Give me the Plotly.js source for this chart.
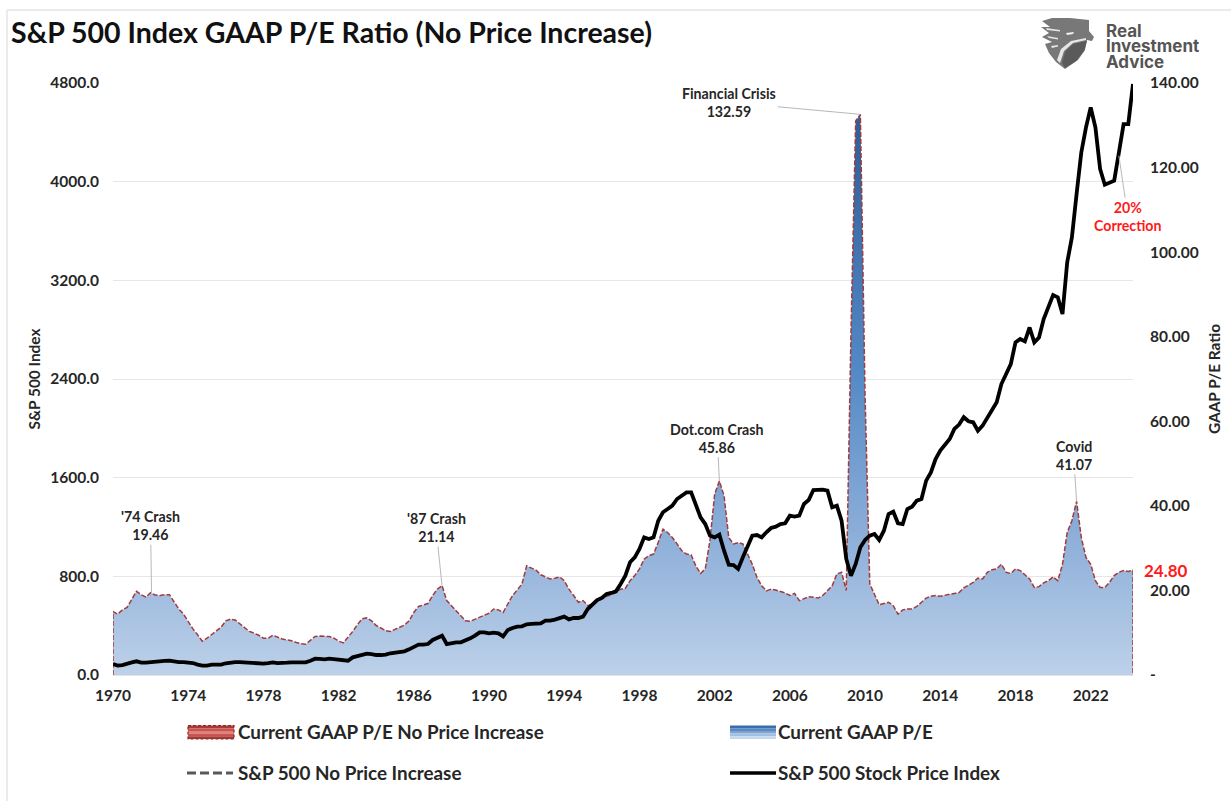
<!DOCTYPE html>
<html>
<head>
<meta charset="utf-8">
<script src="https://cdn.plot.ly/plotly-3.0.1.min.js"></script>
<style>html,body{margin:0;padding:0;background:#fff}#chart{width:1231px;height:801px}</style>
</head>
<body>
<div id="chart"></div>
<script>
const startYear = 1970;
const peRatio = [
14.97,14.4,15.4,16.0, 18.0,19.8,19.0,18.4, 19.46,18.9,18.8,19.0, 19.0,17.2,15.6,14.4,
12.5,10.9,9.5,8.0, 8.7,9.5,10.3,11.3, 12.8,13.2,13.0,12.1, 11.1,10.3,9.9,9.4,
8.7,8.7,9.4,8.9, 8.5,8.3,8.1,7.7, 7.4,7.3,8.1,9.1, 9.2,9.2,9.1,8.7,
8.0,7.6,8.9,10.3, 11.9,13.3,13.5,12.8, 11.7,11.1,10.5,10.3, 10.8,11.3,11.8,12.8,
14.8,16.2,16.5,16.9, 18.8,20.3,21.14,17.6, 16.4,15.2,14.0,12.8, 12.7,13.2,13.6,14.2,
14.6,15.6,15.4,14.8, 16.8,18.8,20.1,21.5, 25.8,25.3,24.8,23.7, 23.1,22.7,22.9,23.2,
22.3,20.3,18.8,17.2, 17.6,16.4,16.8,17.4, 18,18.6,19,19.5, 20.3,20.5,22.3,23.5,
25.1,27.4,28.2,28.6, 31.4,34.5,33.7,32.5, 31.0,29.4,28.6,28.4, 25.8,24.0,25.1,31.8,
42.8,45.86,42.4,32.5, 31,31.3,31,28.6, 26.2,23.1,21.1,19.9, 20.3,20.1,19.8,19.4,
18.8,19.3,17.6,18.0, 18.5,18.4,18.2,18.8, 19.9,21.1,23.9,24.3, 20.0,81,131,132.59,
66,21.5,19.1,16.6, 16.9,17.2,16.4,14.4, 15.4,15.6,15.6,16.2, 17.2,18.2,18.6,18.8,
18.6,18.9,19.1,19.3, 19.5,20.6,21.3,21.9, 22.9,22.7,24.3,24.9, 25.1,26.2,24.3,24.0,
25.1,24.7,23.7,22.7, 20.7,20.9,21.8,22.3, 23.2,22.3,26.2,33.7, 36.5,41.07,32.5,27.8,
26.2,22.3,20.7,20.7, 21.9,23.5,24.3,24.7, 24.5,24.8];
const spIndex = [
89,76,81,95, 103,111,100,100, 105,105,108,114, 116,108,105,105, 100,97,84,76, 76,84,84,84,
95,103,105,105, 103,97,97,97, 92,97,103,97, 95,100,103,103, 103,103,116,132, 130,127,132,127,
119,114,116,143, 154,165,173,170, 162,162,165,176, 184,189,192,208, 230,246,246,251, 284,300,319,251,
259,265,265,278, 297,319,346,346, 338,343,338,313, 365,381,392,395, 411,414,419,419, 441,441,449,462,
473,451,462,462, 473,535,576,608, 625,657,665,678, 738,805,914,954, 1022,1116,1103,1116, 1251,1319,1346,1373,
1427,1454,1481,1481, 1387,1278,1224,1130, 1116,1138,1008,895, 892,860,954,1035, 1130,1135,1116,1157, 1192,1203,1224,1230,
1292,1284,1292,1387, 1419,1500,1503,1503, 1495,1360,1373,1251, 941,805,900,1035, 1095,1130,1143,1095, 1170,1305,1324,1230,
1224,1346,1365,1414, 1427,1576,1643,1751, 1819,1873,1914,1995, 2030,2090,2057,2049, 1981,2022,2090,2149, 2211,2359,2440,2521,
2697,2724,2705,2818, 2697,2737,2886,2994, 3081,3062,2927,3345, 3548,3900,4237,4440, 4602,4440,4103,3975, 3991,4008,4237,4467,
4467,4792];
const years = peRatio.map((_, i) => startYear + i / 4);
const lastYear = years[years.length - 1];
const peTickVals = [0,20,40,60,80,100,120,140];
const peTickText = ['-','20.00','40.00','60.00','80.00','100.00','120.00','140.00'];
const legendLabels = ['Current GAAP P/E No Price Increase','Current GAAP P/E','S&P 500 No Price Increase','S&P 500 Stock Price Index'];

const FONT = 'Lato, "Open Sans", sans-serif';
const TXT = '#262626';
const W = 1231, H = 801, L = 113, R = 1133, T = 83, B = 675;
const px = v => (v - L) / (R - L);
const py = v => (B - v) / (B - T);
const pt = (a, b) => px(a).toFixed(5) + ',' + py(b).toFixed(5);

function line(x0, y0, x1, y1, color, width, dash) {
  return {type:'line', xref:'paper', yref:'paper', x0:px(x0), y0:py(y0), x1:px(x1), y1:py(y1), line:{color, width, dash:dash||'solid'}};
}
function rect(x0, y0, x1, y1, fill) {
  return {type:'rect', xref:'paper', yref:'paper', x0:px(x0), y0:py(y0), x1:px(x1), y1:py(y1), fillcolor:fill, line:{width:0}};
}
function blob(points, fill) {
  const d = points.map((p, i) => (i ? 'L' : 'M') + pt(p[0], p[1])).join(' ') + ' Z';
  return {type:'path', xref:'paper', yref:'paper', path:d, fillcolor:fill, line:{width:0}};
}
function label(x, y, text, size, color, anchor, family) {
  return {xref:'paper', yref:'paper', x:px(x), y:py(y), text, showarrow:false, xanchor:anchor||'left', yanchor:'middle',
          font:{family:family||FONT, size, color, weight:700}};
}
function callout(xv, yv, yr, ax, ay, text, color) {
  return {x:xv, y:yv, xref:'x', yref:yr, ax, ay, axref:'pixel', ayref:'pixel', text, align:'center',
          showarrow:true, arrowhead:0, arrowwidth:1, arrowcolor:'#b8b8b8', standoff:0,
          font:{family:FONT, size:14.2, color:color||TXT, weight:700}};
}

const traces = [
  {x:years, y:peRatio, xaxis:'x', yaxis:'y', type:'scatter', mode:'none', fill:'tozeroy', hoverinfo:'skip',
   fillgradient:{type:'vertical', colorscale:[[0,'#bdd1e9'],[0.2,'#96b5dc'],[0.55,'#5288c4'],[1,'#2e5d99']]},
   name:'Current GAAP P/E'},
  {x:[years[0]].concat(years,[lastYear]), y:[0].concat(peRatio,[0]), xaxis:'x', yaxis:'y', type:'scatter', mode:'lines',
   line:{color:'#a23b3b', width:1.5, dash:'5px,2px'}, hoverinfo:'skip', name:'Current GAAP P/E No Price Increase'},
  {x:years, y:spIndex, xaxis:'x', yaxis:'y2', type:'scatter', mode:'lines',
   line:{color:'#000000', width:3.8}, hoverinfo:'skip', name:'S&P 500 Stock Price Index'}
];

const redBands = ['#a83a36','#c9544f','#dd7f7a','#c9544f','#a83a36'];
const blueBands = ['#3c6dab','#5a88c2','#7ea3d3','#a3bfe2','#c6d8ee'];
const shapes = [
  line(7, 10, 1231, 10, '#ebebeb', 2),
  line(7, 10, 7, 801, '#ebebeb', 2),
  line(187, 773, 233, 773, '#595959', 3, '9px,4px'),
  line(730, 773, 776, 773, '#000000', 3.5)
];
redBands.forEach((c, i) => shapes.push(rect(188, 725.5 + i * 2.7, 234, 725.5 + (i + 1) * 2.7, c)));
shapes.push({type:'rect', xref:'paper', yref:'paper', x0:px(188), y0:py(725.5), x1:px(234), y1:py(739), line:{color:'#8e2a26', width:1.2, dash:'3px,2px'}});
blueBands.forEach((c, i) => shapes.push(rect(730, 725.5 + i * 2.7, 776, 725.5 + (i + 1) * 2.7, c)));

// logo
shapes.push(blob([[1042,21],[1052,18],[1070,18],[1089,20],[1089,31],[1094,37],[1092,41],[1087,40],[1085,50],[1078,60],[1065,69],[1056,62],[1049,53],[1045,44],[1052,42],[1042,37],[1049,33],[1041,27],[1050,27]], '#787878'));
shapes.push(blob([[1062,63],[1065,52],[1073,44],[1087,41],[1084,51],[1076,61],[1065,68]], '#5a5a5a'));
shapes.push(blob([[1057,60],[1061,49],[1071,41],[1086,38],[1086,40],[1073,43],[1064,51],[1060,63]], '#e6e6e6'));
shapes.push(blob([[1066,33],[1074,32],[1073,34],[1067,35]], '#f2f2f2'));
shapes.push(blob([[1046,28],[1060,30],[1060,31.5],[1047,30]], '#e6e6e6'));
shapes.push(blob([[1047,36],[1058,38],[1058,39.5],[1049,38]], '#e6e6e6'));
shapes.push(blob([[1051,46],[1058,45],[1058,46.5],[1052,48]], '#e6e6e6'));

const logoFont = 'Inter, Roboto, sans-serif';
const annotations = [
  callout(1972.05, 19.46, 'y', -1, -67, "'74 Crash<br>19.46"),
  callout(1987.5, 21.14, 'y', -6, -58, "'87 Crash<br>21.14"),
  callout(2002.25, 45.86, 'y', -2, -43, 'Dot.com Crash<br>45.86'),
  callout(2009.75, 132.59, 'y', -131, -12, 'Financial Crisis<br>132.59'),
  callout(2021.25, 41.07, 'y', -3, -46, 'Covid<br>41.07'),
  callout(2023.5, 4210, 'y2', 9, 61, '20%<br>Correction', '#ff1a1a'),
  label(1142, 570, '24.80', 17, '#ff1a1a'),
  Object.assign(label(1104, 30, 'Real', 17, '#555555', 'left', logoFont), {height:15}),
  Object.assign(label(1104, 45.5, 'Investment', 17, '#555555', 'left', logoFont), {height:15}),
  Object.assign(label(1104, 61, 'Advice', 17, '#555555', 'left', logoFont), {height:15}),
  label(236, 731, legendLabels[0], 18.85, TXT),
  label(776, 731, legendLabels[1], 18.85, TXT),
  label(236, 772, legendLabels[2], 18.85, TXT),
  label(776, 772, legendLabels[3], 18.85, TXT)
];

const tickFont = {family:FONT, size:15.5, color:TXT, weight:700};
const axisTitleFont = {family:FONT, size:15.4, color:TXT, weight:700};
const layout = {
  width:W, height:H, showlegend:false, paper_bgcolor:'#fff', plot_bgcolor:'#fff',
  margin:{l:L, r:W-R, t:T, b:H-B, pad:0},
  title:{text:'S&P 500 Index GAAP P/E Ratio (No Price Increase)', xref:'container', x:11/W, xanchor:'left', yref:'container', y:1-33/H, yanchor:'middle',
         font:{family:FONT, size:28.5, color:'#111111', weight:700}},
  xaxis:{range:[1970, lastYear], tick0:1970, dtick:4, tickformat:'d', showgrid:false, zeroline:false, showline:true, linecolor:'#e3e3e3',
         ticks:'', tickfont:tickFont, ticklabelstandoff:6},
  yaxis:{range:[0,140], side:'right', tickvals:peTickVals, ticktext:peTickText, showgrid:false, zeroline:false, showline:false,
         tickfont:tickFont, ticklabelstandoff:16, title:{text:'GAAP P/E Ratio', font:axisTitleFont, standoff:11}},
  yaxis2:{range:[0,4800], side:'left', overlaying:'y', dtick:800, tick0:0, tickformat:'.1f', showgrid:true, gridcolor:'#e6e6e6', gridwidth:1,
          zeroline:false, showline:false, tickfont:tickFont, ticklabelstandoff:13, title:{text:'S&P 500 Index', font:axisTitleFont, standoff:5}},
  shapes, annotations
};
Plotly.newPlot('chart', traces, layout, {displayModeBar:false, staticPlot:true});
</script>
</body>
</html>
